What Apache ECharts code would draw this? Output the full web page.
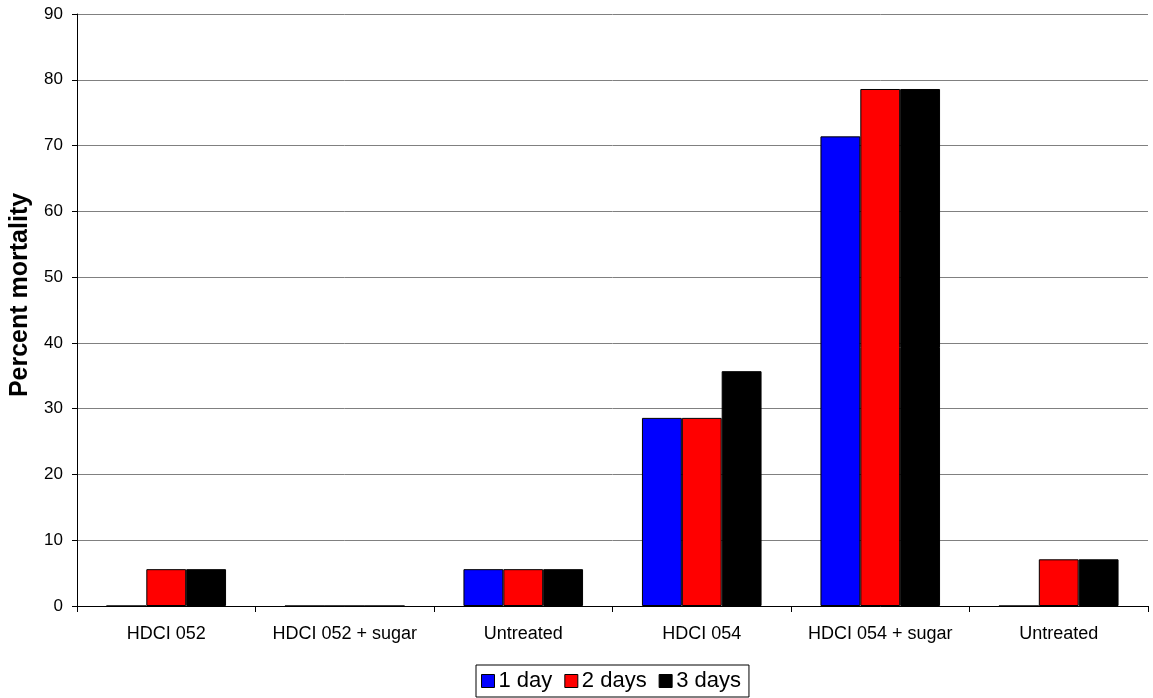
<!DOCTYPE html>
<html>
<head>
<meta charset="utf-8">
<script src="https://cdn.jsdelivr.net/npm/echarts@6/dist/echarts.min.js"></script>
<style>
  html, body { margin: 0; padding: 0; background: #fff; }
  #chart { width: 1153px; height: 698px; }
</style>
</head>
<body>
<div id="chart"></div>
<script>
// 数据
const categories = ['HDCI 052', 'HDCI 052 + sugar', 'Untreated', 'HDCI 054', 'HDCI 054 + sugar', 'Untreated'];
const day1 = [0, 0, 5.6, 28.6, 71.4, 0];
const day2 = [5.6, 0, 5.6, 28.6, 78.6, 7.1];
const day3 = [5.6, 0, 5.6, 35.7, 78.6, 7.1];
const seriesNames = ['1 day', '2 days', '3 days'];
const seriesColors = ['#0000ff', '#ff0000', '#000000'];
const yTicks = { min: 0, max: 90, interval: 10 };

const chart = echarts.init(document.getElementById('chart'));

const makeSeries = (name, data, color) => ({
    name: name,
    type: 'bar',
    data: data,
    barGap: '0%',
    barCategoryGap: '33%',
    itemStyle: { color: color, borderColor: '#000', borderWidth: 1 },
    emphasis: { disabled: true }
});

const option = {
    animation: false,
    textStyle: { fontFamily: 'Liberation Sans, Arial, sans-serif' },
    grid: { left: 77, right: 5, top: 14, bottom: 92 },
    legend: {
        data: seriesNames,
        icon: 'rect',
        bottom: 1,
        left: 476,
        itemWidth: 13,
        itemHeight: 13,
        itemGap: 12,
        padding: [5, 8, 5, 5],
        borderColor: '#000',
        borderWidth: 1,
        borderRadius: 0,
        textStyle: { fontSize: 22, color: '#000', padding: [0, 0, 0, -1] },
        itemStyle: { borderColor: '#000', borderWidth: 1 }
    },
    xAxis: {
        type: 'category',
        data: categories,
        axisLine: { lineStyle: { color: '#000', width: 1 } },
        axisTick: { show: true, alignWithLabel: false, length: 6, lineStyle: { color: '#000' } },
        axisLabel: { color: '#000', fontSize: 18, margin: 19, interval: 0 }
    },
    yAxis: {
        type: 'value',
        min: yTicks.min,
        max: yTicks.max,
        interval: yTicks.interval,
        name: 'Percent mortality',
        nameLocation: 'middle',
        nameGap: 44,
        nameTextStyle: { fontSize: 25, fontWeight: 'bold', color: '#000', padding: [0, 0, 0, 30] },
        axisLine: { show: true, lineStyle: { color: '#000', width: 1 } },
        axisTick: { show: true, length: 5, lineStyle: { color: '#000' } },
        axisLabel: { color: '#000', fontSize: 17, margin: 14 },
        splitLine: { lineStyle: { color: '#808080', width: 1 } }
    },
    series: [
        makeSeries(seriesNames[0], day1, seriesColors[0]),
        makeSeries(seriesNames[1], day2, seriesColors[1]),
        makeSeries(seriesNames[2], day3, seriesColors[2])
    ]
};

chart.setOption(option);
</script>
</body>
</html>
